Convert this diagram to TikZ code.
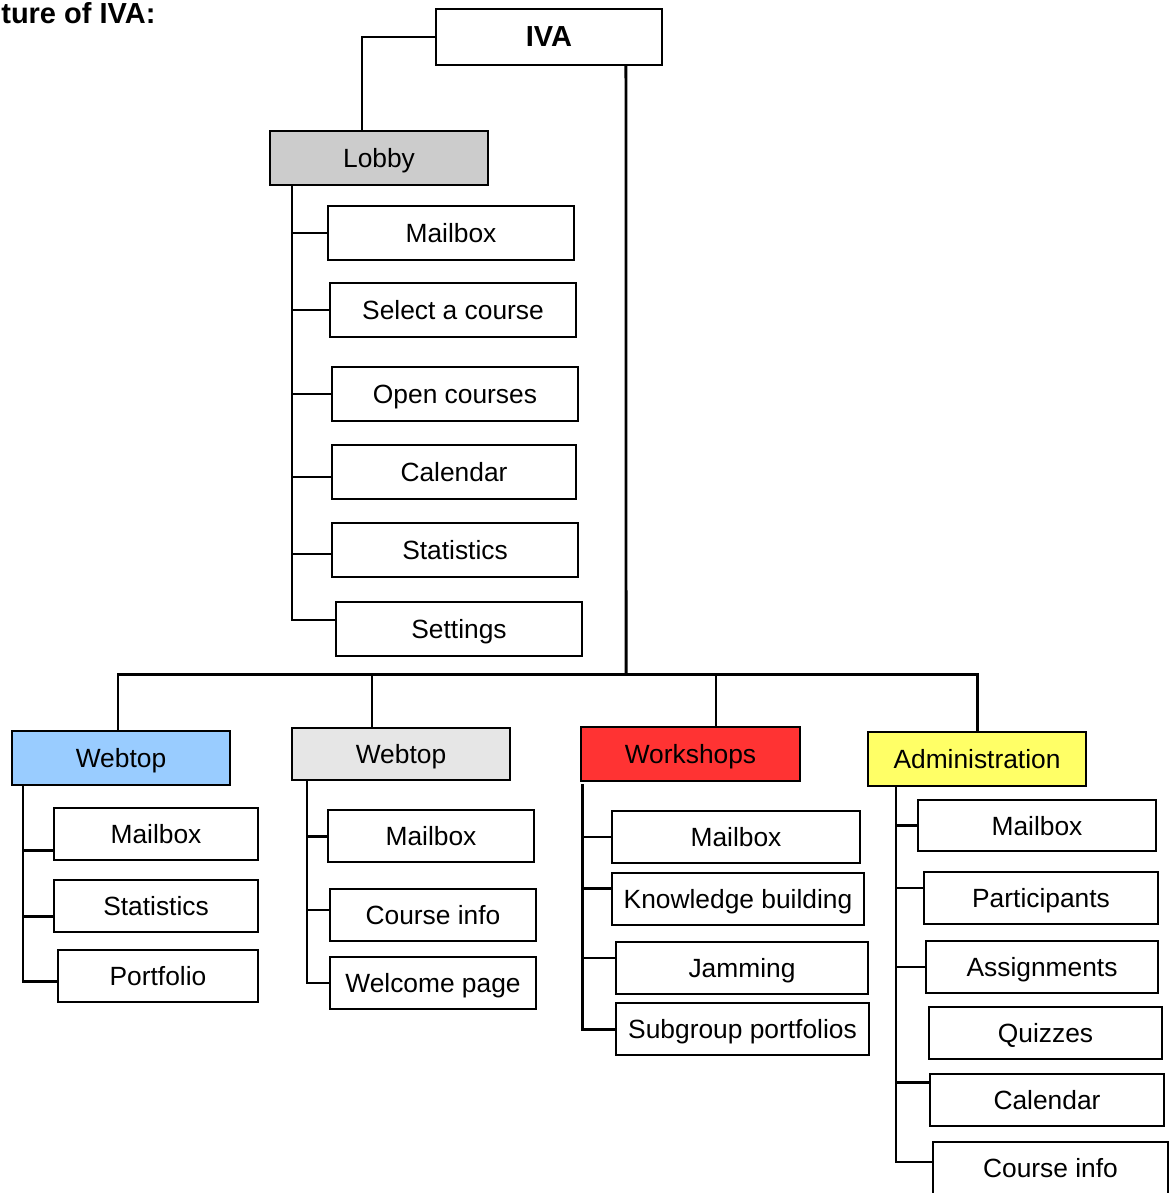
\documentclass[tikz,border=0pt]{standalone}
\usepackage{fontspec}
\setmainfont{Liberation Sans}
\usepackage{xcolor}
\usepackage{tikz}

\definecolor{lobbygray}{HTML}{CCCCCC}
\definecolor{webblue}{HTML}{99CCFF}
\definecolor{webgray}{HTML}{E6E6E6}
\definecolor{workred}{HTML}{FF3333}
\definecolor{admyellow}{HTML}{FFFF66}

\begin{document}
\begin{tikzpicture}[x=0.02cm, y=-0.02cm,
    box/.style={draw, line width=1pt, inner sep=0pt, minimum height=1.04cm,
        text depth=0pt, font=\fontsize{15}{18}\selectfont},
    link/.style={line width=0.9pt},
    heavy/.style={line width=1.7pt}]
    \useasboundingbox (0,0) rectangle (1170,1193);

    % Title (cut off in the original)
    \node[anchor=base west, inner sep=0pt, font=\bfseries\fontsize{16.5}{20}\selectfont] (title) at (1,24) {ture of IVA:};

    % Root
    \node[box, minimum width=4.52cm, minimum height=1.12cm, font=\bfseries\fontsize{16.5}{20}\selectfont] (iva) at (549,37) {IVA};

    % Lobby
    \node[box, fill=lobbygray, minimum width=4.36cm, minimum height=1.08cm] (lobby) at (379,158) {Lobby};
    \node[box, minimum width=4.92cm, minimum height=1.08cm] (lmail) at (451,233) {Mailbox};
    \node[box, minimum width=4.92cm, minimum height=1.08cm] (lsel) at (453,310) {Select a course};
    \node[box, minimum width=4.92cm, minimum height=1.08cm] (lopen) at (455,394) {Open courses};
    \node[box, minimum width=4.88cm, minimum height=1.08cm] (lcal) at (454,472) {Calendar};
    \node[box, minimum width=4.92cm, minimum height=1.08cm] (lstat) at (455,550) {Statistics};
    \node[box, minimum width=4.92cm, minimum height=1.08cm] (lset) at (459,629) {Settings};

    % Webtop (blue)
    \node[box, fill=webblue, minimum width=4.36cm, minimum height=1.08cm] (webA) at (121,758) {Webtop};
    \node[box, minimum width=4.08cm] (wamail) at (156,834) {Mailbox};
    \node[box, minimum width=4.08cm] (wastat) at (156,906) {Statistics};
    \node[box, minimum width=4.00cm] (waport) at (158,976) {Portfolio};

    % Webtop (gray)
    \node[box, fill=webgray, minimum width=4.36cm] (webB) at (401,754) {Webtop};
    \node[box, minimum width=4.12cm] (wbmail) at (431,836) {Mailbox};
    \node[box, minimum width=4.12cm] (wbinfo) at (433,915) {Course info};
    \node[box, minimum width=4.12cm] (wbwel) at (433,983) {Welcome page};

    % Workshops
    \node[box, fill=workred, minimum width=4.38cm, minimum height=1.08cm] (work) at (690.5,754) {Workshops};
    \node[box, minimum width=4.96cm] (kmail) at (736,837) {Mailbox};
    \node[box, minimum width=5.04cm] (kknow) at (738,899) {Knowledge building};
    \node[box, minimum width=5.04cm] (kjam) at (742,968) {Jamming};
    \node[box, minimum width=5.06cm] (ksub) at (742.5,1029) {Subgroup portfolios};

    % Administration
    \node[box, fill=admyellow, minimum width=4.36cm, minimum height=1.08cm] (adm) at (977,759) {Administration};
    \node[box, minimum width=4.76cm, minimum height=1.02cm] (amail) at (1037,825.5) {Mailbox};
    \node[box, minimum width=4.68cm] (apart) at (1041,898) {Participants};
    \node[box, minimum width=4.64cm] (aass) at (1042,967) {Assignments};
    \node[box, minimum width=4.66cm] (aquiz) at (1045.5,1033) {Quizzes};
    \node[box, minimum width=4.68cm] (acal) at (1047,1100) {Calendar};
    \node[box, minimum width=4.70cm] (ainfo) at (1050.5,1168) {Course info};

    % Top links
    \coordinate (bus) at (626,674);
    \draw[link] (iva.west) -| ([xshift=-0.34cm]lobby.north);
    \draw[heavy] ([xshift=1.54cm]iva.south) -- (bus);
    \draw[heavy] ([xshift=-0.06cm]webA.north) |- (bus) -| (adm.north);
    \draw[link] ([xshift=-0.58cm]webB.north) -- ([xshift=-0.58cm]webB.north |- bus);
    \draw[link] ([xshift=0.51cm]work.north) -- ([xshift=0.51cm]work.north |- bus);

    % Lobby branches
    \coordinate (lt) at (292,185);
    \draw[link] (lt) |- ([yshift=0.18cm]lset.west);
    \draw[link] (lmail.west) -- (lmail.west -| lt);
    \draw[heavy] (lsel.west) -- (lsel.west -| lt);
    \draw[heavy] (lopen.west) -- (lopen.west -| lt);
    \draw[heavy] ([yshift=-0.1cm]lcal.west) -- ([yshift=-0.1cm]lcal.west -| lt);
    \draw[link] ([yshift=-0.08cm]lstat.west) -- ([yshift=-0.08cm]lstat.west -| lt);

    % Webtop (blue) branches
    \coordinate (wat) at (23,785);
    \draw[heavy] (wat) |- ([yshift=-0.1cm]waport.west);
    \draw[heavy] ([yshift=-0.32cm]wamail.west) -- ([yshift=-0.32cm]wamail.west -| wat);
    \draw[heavy] ([yshift=-0.2cm]wastat.west) -- ([yshift=-0.2cm]wastat.west -| wat);

    % Webtop (gray) branches
    \coordinate (wbt) at (307,780);
    \draw[link] (wbt) |- (wbwel.west);
    \draw[heavy] (wbmail.west) -- (wbmail.west -| wbt);
    \draw[link] ([yshift=0.1cm]wbinfo.west) -- ([yshift=0.1cm]wbinfo.west -| wbt);

    % Workshops branches
    \coordinate (kt) at (582,784);
    \draw[heavy] (kt) |- (ksub.west);
    \draw[link] (kmail.west) -- (kmail.west -| kt);
    \draw[heavy] ([yshift=0.22cm]kknow.west) -- ([yshift=0.22cm]kknow.west -| kt);
    \draw[link] ([yshift=0.2cm]kjam.west) -- ([yshift=0.2cm]kjam.west -| kt);

    % Administration branches
    \coordinate (at) at (896,786);
    \draw[link] (at) |- ([yshift=0.12cm]ainfo.west);
    \draw[heavy] (amail.west) -- (amail.west -| at);
    \draw[link] ([yshift=0.2cm]apart.west) -- ([yshift=0.2cm]apart.west -| at);
    \draw[link] (aass.west) -- (aass.west -| at);
    \draw[heavy] ([yshift=0.36cm]acal.west) -- ([yshift=0.36cm]acal.west -| at);
\end{tikzpicture}
\end{document}
